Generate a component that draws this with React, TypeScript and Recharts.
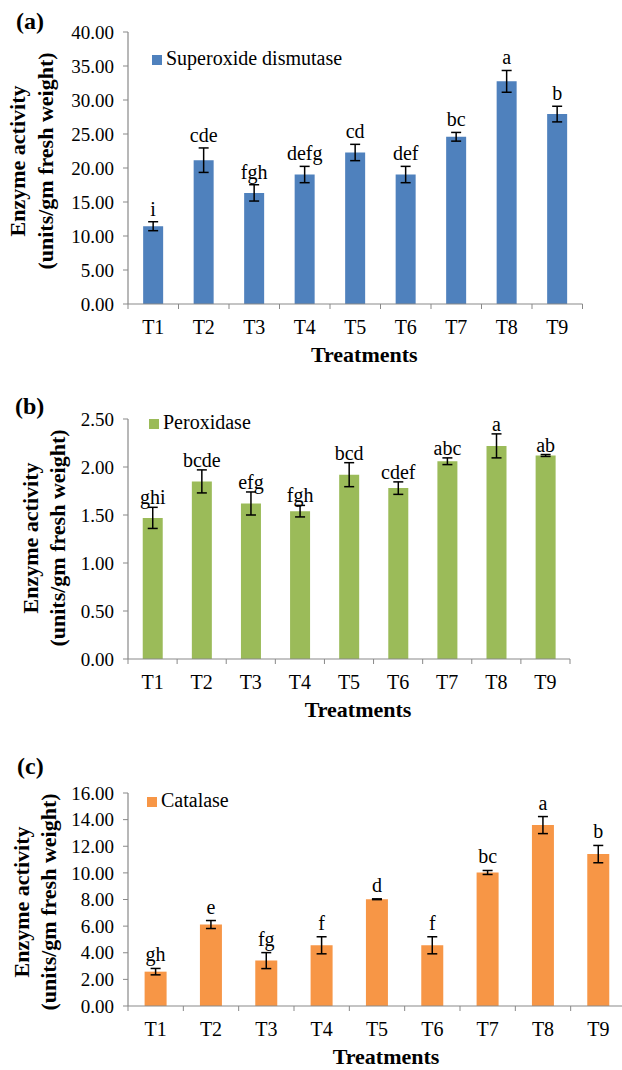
import React from "react";
import { BarChart, Bar, XAxis, YAxis, Legend, ErrorBar, LabelList } from "recharts";

const treatments = ["T1", "T2", "T3", "T4", "T5", "T6", "T7", "T8", "T9"];

const sodValues = [11.44, 21.15, 16.34, 19.04, 22.28, 19.04, 24.59, 32.74, 27.93];
const sodErrors = [0.66, 1.8, 1.2, 1.2, 1.2, 1.2, 0.64, 1.6, 1.15];
const sodLetters = ["i", "cde", "fgh", "defg", "cd", "def", "bc", "a", "b"];
const sodTicks = [0, 5, 10, 15, 20, 25, 30, 35, 40];

const podValues = [1.47, 1.85, 1.62, 1.54, 1.92, 1.78, 2.06, 2.22, 2.12];
const podErrors = [0.11, 0.12, 0.12, 0.06, 0.125, 0.065, 0.035, 0.125, 0.01];
const podLetters = ["ghi", "bcde", "efg", "fgh", "bcd", "cdef", "abc", "a", "ab"];
const podTicks = [0, 0.5, 1, 1.5, 2, 2.5];

const catValues = [2.58, 6.12, 3.41, 4.56, 8.02, 4.56, 10.03, 13.59, 11.41];
const catErrors = [0.24, 0.3, 0.6, 0.64, 0.03, 0.64, 0.15, 0.64, 0.65];
const catLetters = ["gh", "e", "fg", "f", "d", "f", "bc", "a", "b"];
const catTicks = [0, 2, 4, 6, 8, 10, 12, 14, 16];

const FONT = '"Liberation Serif", "Times New Roman", serif';
const AXIS = "#898989";
const Y_W = 128;

interface PanelProps {
  tag: string;
  name: string;
  color: string;
  values: number[];
  errors: number[];
  letters: string[];
  ticks: number[];
  top: number;
  width: number;
  height: number;
  marginTop: number;
  marginRight: number;
  axisHeight: number;
  tagX: number;
  tagY: number;
  line1X: number;
  line2X: number;
  labelShift: number;
  letterGap: number;
  legendTop: number;
  legendLeft: number;
}

function Panel(p: PanelProps) {
  const rows = treatments.map((t, i) => ({ name: t, value: p.values[i], err: p.errors[i] }));
  const plotWidth = p.width - Y_W - p.marginRight;
  const half = plotWidth / treatments.length / 2;
  const max = p.ticks[p.ticks.length - 1];

  const catTick = (t: any) => {
    const { x, y, payload, index } = t;
    return (
      <g>
        <line x1={x - half} x2={x - half} y1={y} y2={y + 5} stroke={AXIS} />
        {index === treatments.length - 1 && (
          <line x1={x + half} x2={x + half} y1={y} y2={y + 5} stroke={AXIS} />
        )}
        <text x={x} y={y + 30} textAnchor="middle" fontSize={20} fontFamily={FONT} fill="#000">
          {payload.value}
        </text>
      </g>
    );
  };

  const yLabel = (lp: any) => {
    const vb = lp.viewBox;
    const cy = vb.y + vb.height / 2 + p.labelShift;
    return (
      <g fontFamily={FONT} fontWeight="bold" fill="#000">
        <text x={p.tagX} y={p.tagY} fontSize={24}>
          {p.tag}
        </text>
        <text
          transform={`translate(${p.line1X},${cy}) rotate(-90)`}
          textAnchor="middle"
          dominantBaseline="central"
          fontSize={22}
        >
          Enzyme activity
        </text>
        <text
          transform={`translate(${p.line2X},${cy}) rotate(-90)`}
          textAnchor="middle"
          dominantBaseline="central"
          fontSize={22}
        >
          (units/gm fresh weight)
        </text>
      </g>
    );
  };

  const xLabel = (lp: any) => {
    const vb = lp.viewBox;
    return (
      <text
        x={vb.x + vb.width / 2 + 9}
        y={vb.y + 58}
        textAnchor="middle"
        fontFamily={FONT}
        fontWeight="bold"
        fontSize={22}
        fill="#000"
      >
        Treatments
      </text>
    );
  };

  const letter = (lp: any) => {
    const vb = lp.viewBox ?? lp;
    const i = lp.index;
    const perUnit = Math.abs(vb.height) / p.values[i];
    const yTop = Math.min(vb.y, vb.y + vb.height);
    return (
      <text
        x={vb.x + vb.width / 2}
        y={yTop - p.errors[i] * perUnit - p.letterGap}
        textAnchor="middle"
        fontSize={20}
        fontFamily={FONT}
        fill="#000"
      >
        {p.letters[i]}
      </text>
    );
  };

  return (
    <div style={{ position: "absolute", left: 0, top: p.top, width: p.width, height: p.height }}>
      <BarChart
        width={p.width}
        height={p.height}
        data={rows}
        margin={{ top: p.marginTop, right: p.marginRight, left: 0, bottom: 0 }}
        barCategoryGap="30%"
      >
        <XAxis
          dataKey="name"
          height={p.axisHeight}
          interval={0}
          tickSize={0}
          tickMargin={0}
          tickLine={false}
          axisLine={{ stroke: AXIS, strokeWidth: 1.2 }}
          tick={catTick}
          label={xLabel}
        />
        <YAxis
          width={Y_W}
          domain={[0, max]}
          ticks={p.ticks}
          interval={0}
          tickFormatter={(v: number) => v.toFixed(2)}
          axisLine={{ stroke: AXIS, strokeWidth: 1.2 }}
          tickLine={{ stroke: AXIS }}
          tickSize={5}
          tickMargin={9}
          tick={{ fontSize: 19, fill: "#000", fontFamily: FONT }}
          label={yLabel}
        />
        <Legend
          verticalAlign="middle"
          align="center"
          layout="horizontal"
          iconType="square"
          iconSize={10}
          wrapperStyle={{
            top: p.legendTop,
            left: p.legendLeft,
            width: "auto",
            height: "auto",
            fontFamily: FONT,
            fontSize: 20,
            lineHeight: "20px",
          }}
          formatter={(v: any) => <span style={{ color: "#000" }}>{v}</span>}
        />
        <Bar dataKey="value" name={p.name} fill={p.color} isAnimationActive={false}>
          <ErrorBar dataKey="err" width={5} strokeWidth={1.5} stroke="#000" />
          <LabelList dataKey="value" content={letter} />
        </Bar>
      </BarChart>
    </div>
  );
}

export default function App() {
  return (
    <div
      style={{
        position: "absolute",
        left: 0,
        top: 0,
        width: 622,
        height: 1070,
        overflow: "hidden",
        background: "#fff",
      }}
    >
      <Panel
        tag="(a)"
        name="Superoxide dismutase"
        color="#4F81BD"
        values={sodValues}
        errors={sodErrors}
        letters={sodLetters}
        ticks={sodTicks}
        top={0}
        width={622}
        height={375}
        marginTop={32}
        marginRight={39.5}
        axisHeight={71}
        tagX={16}
        tagY={29}
        line1X={17}
        line2X={45}
        labelShift={-7}
        letterGap={6}
        legendTop={48}
        legendLeft={152}
      />
      <Panel
        tag="(b)"
        name="Peroxidase"
        color="#9BBB59"
        values={podValues}
        errors={podErrors}
        letters={podLetters}
        ticks={podTicks}
        top={375}
        width={622}
        height={365}
        marginTop={44}
        marginRight={52}
        axisHeight={81}
        tagX={15}
        tagY={39}
        line1X={30}
        line2X={57}
        labelShift={-1}
        letterGap={3}
        legendTop={37}
        legendLeft={149}
      />
      <Panel
        tag="(c)"
        name="Catalase"
        color="#F79646"
        values={catValues}
        errors={catErrors}
        letters={catLetters}
        ticks={catTicks}
        top={740}
        width={630}
        height={330}
        marginTop={53}
        marginRight={4}
        axisHeight={64}
        tagX={17}
        tagY={34}
        line1X={21}
        line2X={48}
        labelShift={2.5}
        letterGap={7}
        legendTop={50}
        legendLeft={147}
      />
    </div>
  );
}
